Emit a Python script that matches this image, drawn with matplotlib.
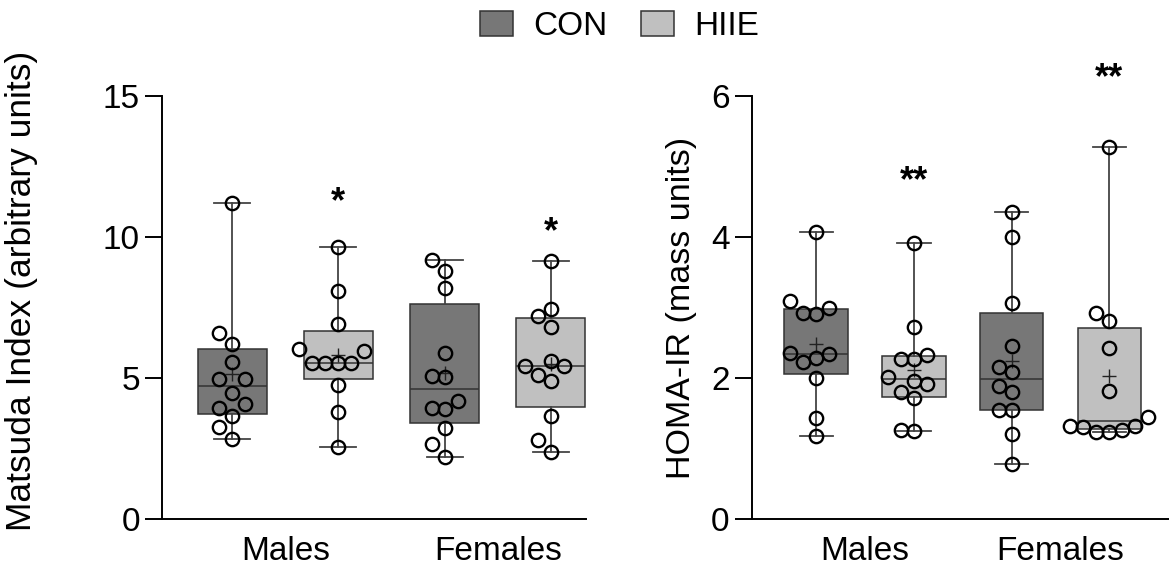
import numpy as np
import matplotlib.pyplot as plt
from matplotlib.patches import Patch

plt.rcParams["font.family"] = ["Liberation Sans", "DejaVu Sans"]

groups = ["Males", "Females"]
treatments = ["CON", "HIIE"]
box_colors = ["#777777", "#c0c0c0"]

# Matsuda index, one list per box (Males CON, Males HIIE, Females CON, Females HIIE)
matsuda_males_con = [11.19, 6.58, 6.20, 5.58, 4.95, 4.95, 4.46, 4.08, 3.94, 3.65, 3.25, 2.84]
matsuda_males_hiie = [9.66, 8.10, 6.90, 6.02, 5.96, 5.54, 5.54, 5.54, 5.52, 4.76, 3.81, 2.54]
matsuda_females_con = [9.18, 8.79, 8.18, 5.90, 5.07, 5.02, 4.18, 3.92, 3.89, 3.22, 2.65, 2.19]
matsuda_females_hiie = [9.16, 7.45, 7.21, 6.82, 5.60, 5.44, 5.44, 5.11, 4.90, 3.66, 2.80, 2.36]

# HOMA-IR
homa_males_con = [4.07, 3.09, 2.99, 2.92, 2.91, 2.35, 2.34, 2.28, 2.22, 2.00, 1.43, 1.18]
homa_males_hiie = [3.91, 2.72, 2.33, 2.27, 2.27, 2.02, 1.96, 1.92, 1.80, 1.71, 1.26, 1.25]
homa_females_con = [4.35, 4.00, 3.07, 2.45, 2.16, 2.08, 1.89, 1.80, 1.55, 1.55, 1.21, 0.78]
homa_females_hiie = [5.27, 2.92, 2.81, 2.42, 1.82, 1.45, 1.32, 1.32, 1.30, 1.26, 1.24, 1.23]

matsuda_sig = ["", "*", "", "*"]
homa_sig = ["", "**", "", "**"]


def box_stats(values):
    v = np.asarray(values)
    q1, med, q3 = np.percentile(v, [25, 50, 75], method="weibull")
    return dict(med=med, q1=q1, q3=q3, whislo=v.min(), whishi=v.max(),
                mean=v.mean(), fliers=[])


def swarm_x(ax, xc, values, step_px=13.0, gap_px=17.0):
    pts = ax.transData.transform(np.column_stack([np.full(len(values), xc), values]))
    ys = pts[:, 1]
    cands = [0] + [s * k for k in range(1, 8) for s in (-1, 1)]
    placed = []
    offs = np.zeros(len(values))
    for i in np.argsort(ys):
        for c in cands:
            dx = c * step_px
            if all(abs(dx - px) >= 12.5 or abs(ys[i] - py) >= gap_px for px, py in placed):
                break
        placed.append((dx, ys[i]))
        offs[i] = dx
    back = ax.transData.inverted().transform(np.column_stack([pts[:, 0] + offs, ys]))
    return back[:, 0]


def draw_panel(ax, data, ylim, yticks, ylabel, sig, star_y):
    positions = np.arange(len(data))
    ax.set_xlim(-0.66, ax_right_lim[ax])
    ax.set_ylim(*ylim)
    stats = [box_stats(d) for d in data]
    bp = ax.bxp(stats, positions=positions, widths=0.65, patch_artist=True,
                showmeans=True, meanline=False, showfliers=False, capwidths=0.34,
                boxprops=dict(edgecolor="#333333", linewidth=1.1),
                medianprops=dict(color="#333333", linewidth=1.1),
                whiskerprops=dict(color="#444444", linewidth=1.3),
                capprops=dict(color="#444444", linewidth=1.3),
                meanprops=dict(marker="+", markeredgecolor="#222222",
                               markersize=10, markeredgewidth=1.0))
    for i, patch in enumerate(bp["boxes"]):
        patch.set_facecolor(box_colors[i % 2])
    for i, d in enumerate(data):
        xs = swarm_x(ax, positions[i], d)
        ax.plot(xs, d, "o", ms=9.6, mfc="none", mec="black", mew=1.7,
                clip_on=False, zorder=5)
    for i, s in enumerate(sig):
        if s:
            ax.text(positions[i], star_y[i], s, ha="center", va="center",
                    fontsize=26, fontweight="bold")

    ax.set_yticks(yticks)
    ax.set_xticks([0.5, 2.5])
    ax.set_xticklabels(groups, fontsize=24)
    ax.tick_params(axis="y", labelsize=24, length=12, width=1.4, pad=4)
    ax.tick_params(axis="x", length=0, pad=12)
    for side in ["top", "right"]:
        ax.spines[side].set_visible(False)
    for side in ["left", "bottom"]:
        ax.spines[side].set_linewidth(1.4)
    ax.set_ylabel(ylabel)


fig = plt.figure(figsize=(11.69, 5.71), dpi=100)
ax1 = fig.add_axes([0.1386, 0.0911, 0.3627, 0.7408])
ax2 = fig.add_axes([0.643, 0.0911, 0.357, 0.7408])
ax_right_lim = {ax1: 3.33, ax2: 3.61}

draw_panel(ax1,
           [matsuda_males_con, matsuda_males_hiie, matsuda_females_con, matsuda_females_hiie],
           (0, 15), [0, 5, 10, 15], "Matsuda Index (arbitrary units)",
           matsuda_sig, [0, 11.2, 0, 10.15])
draw_panel(ax2,
           [homa_males_con, homa_males_hiie, homa_females_con, homa_females_hiie],
           (0, 6), [0, 2, 4, 6], "HOMA-IR (mass units)",
           homa_sig, [0, 4.78, 0, 6.25])

ax1.yaxis.label.set_fontsize(25.5)
ax2.yaxis.label.set_fontsize(24.5)
ax1.yaxis.set_label_coords(-0.292, 0.54)
ax2.yaxis.set_label_coords(-0.13, 0.5)

handles = [Patch(facecolor=c, edgecolor="#333333", linewidth=1.1) for c in box_colors]
fig.legend(handles, treatments, loc="center", bbox_to_anchor=(0.53, 0.954), ncol=2,
           frameon=False, fontsize=24, handlelength=1.0, handleheight=0.8,
           handletextpad=0.6, columnspacing=1.0)

fig.savefig("out.png", dpi=100)
